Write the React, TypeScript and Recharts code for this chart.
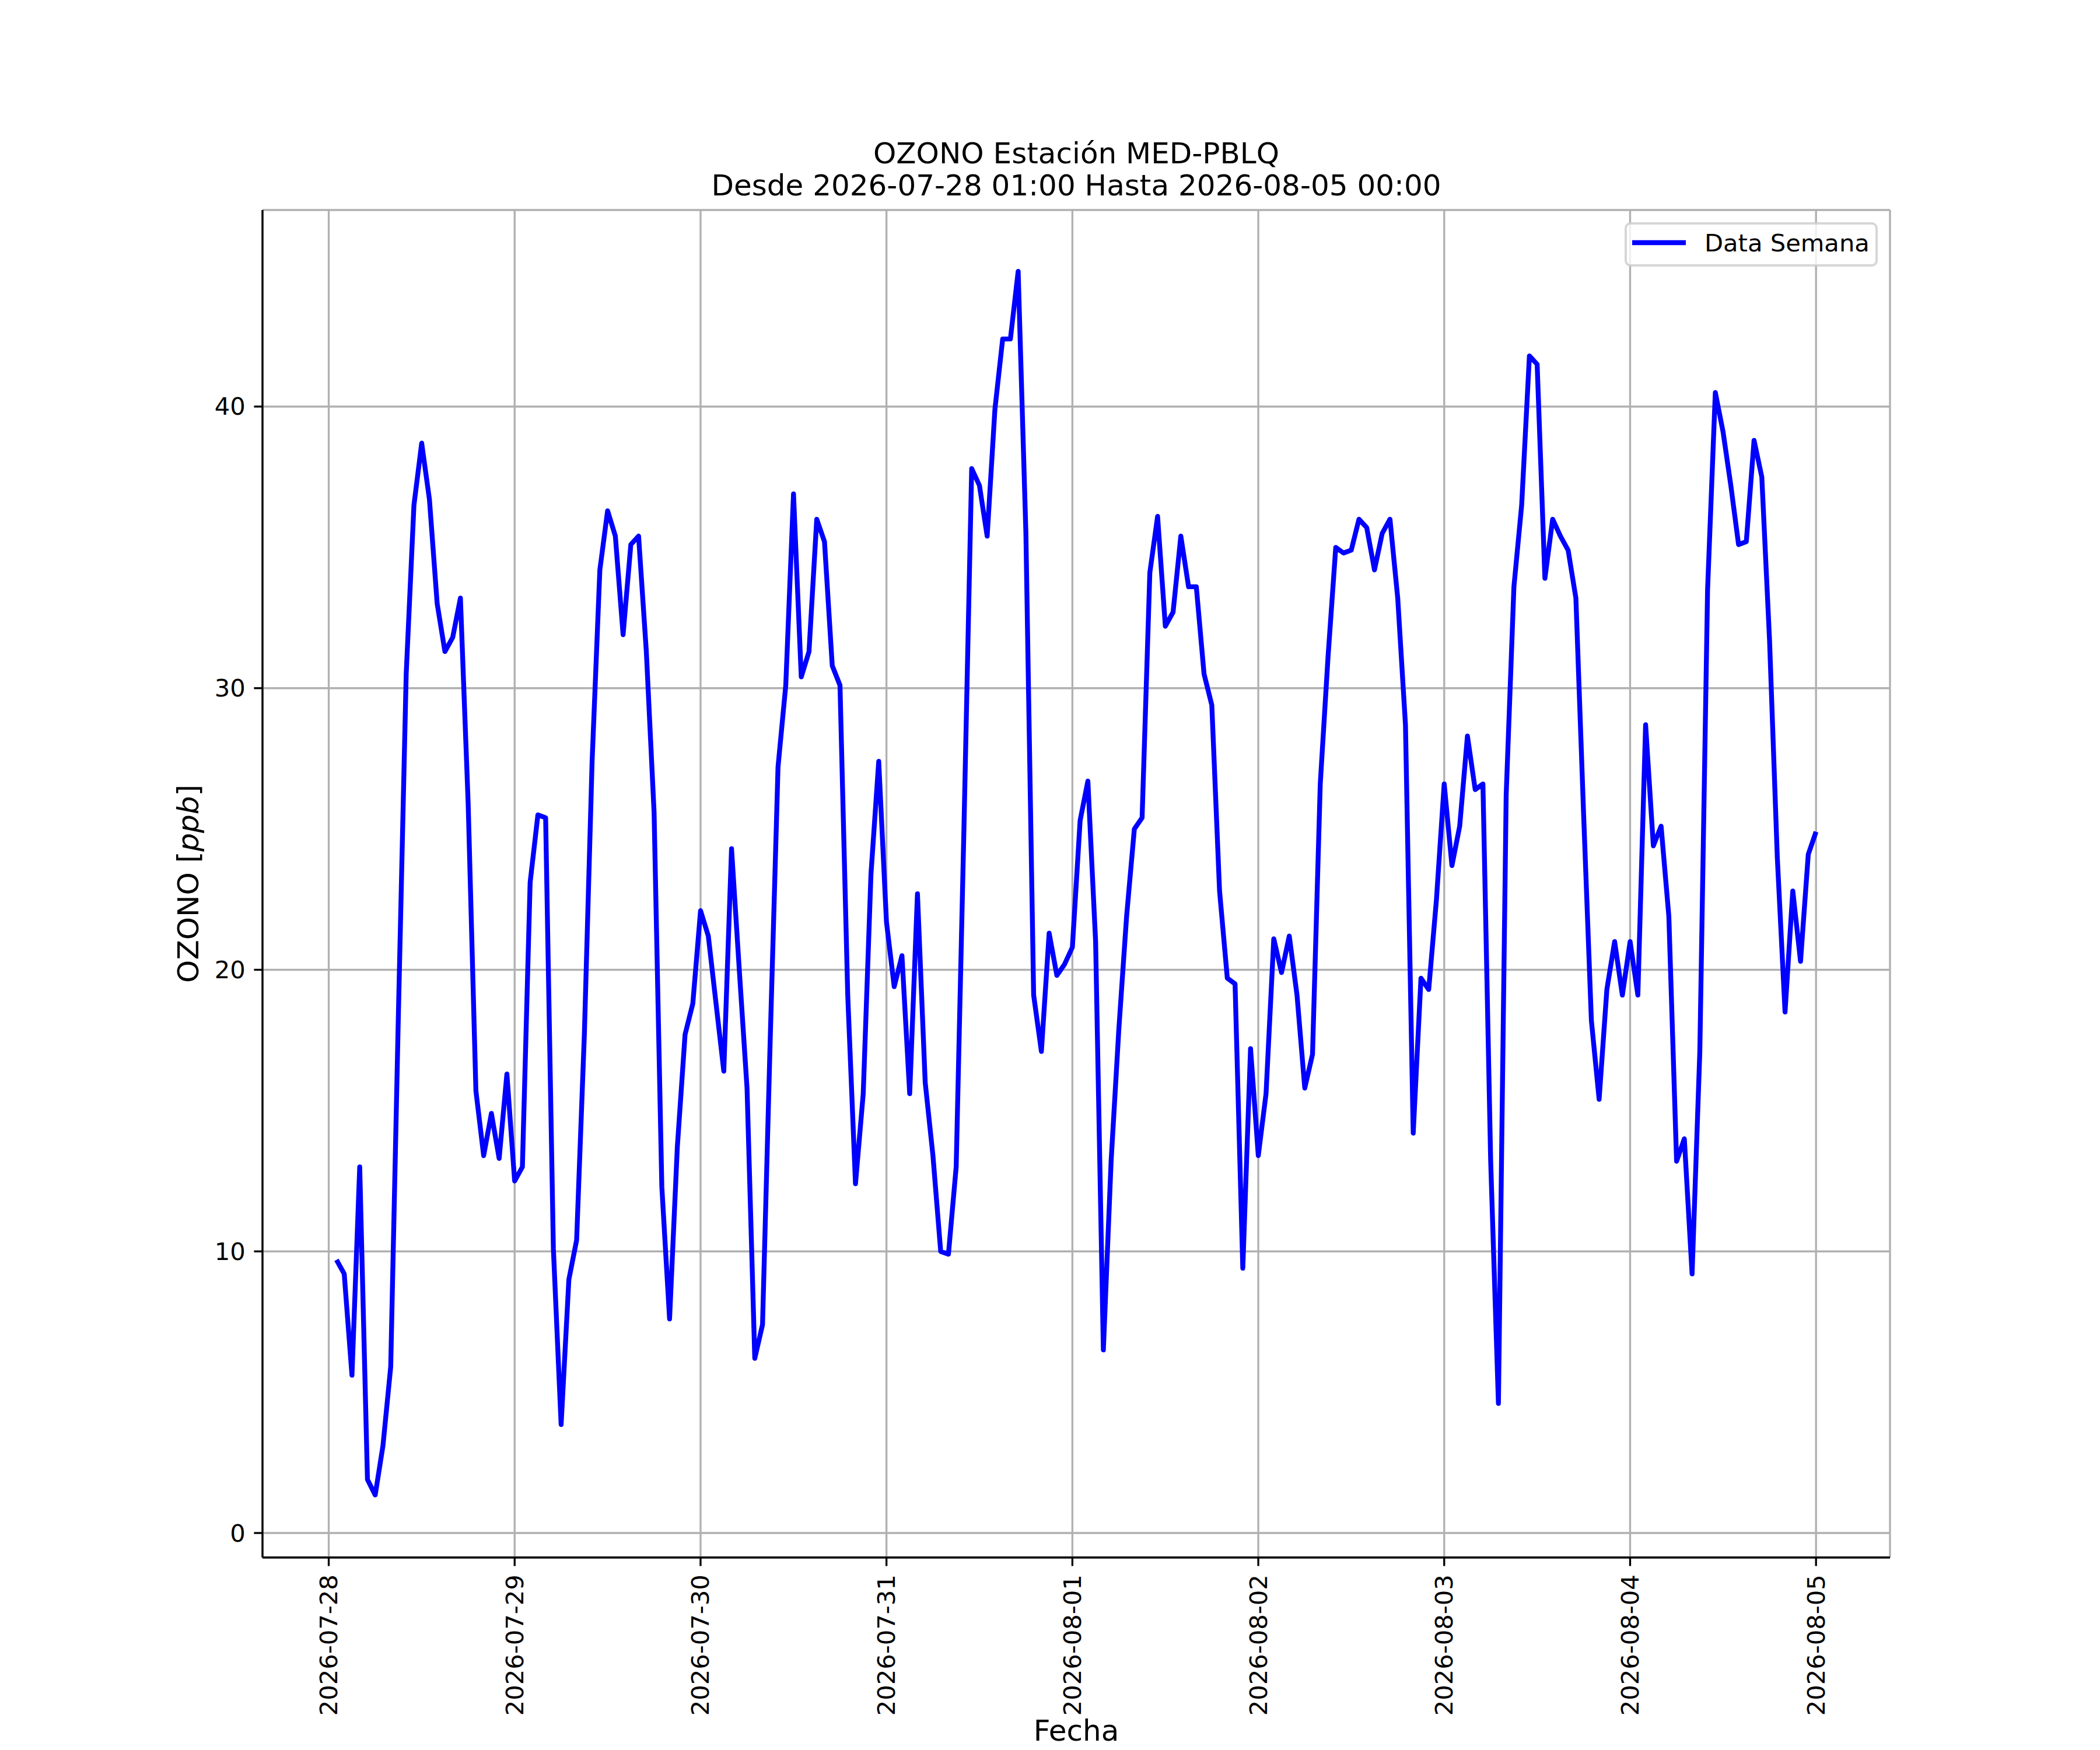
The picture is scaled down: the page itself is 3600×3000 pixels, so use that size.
import React from 'react';
import { LineChart, Line, XAxis, YAxis, CartesianGrid, Legend } from 'recharts';

// Hourly ozone readings (ppb), from 2026-07-28 01:00 to 2026-08-05 00:00
const day1 = [9.7, 9.2, 5.6, 13.0, 1.9, 1.35, 3.1, 5.9, 18.5, 30.5, 36.5, 38.7, 36.7, 33.0, 31.3, 31.8, 33.2, 25.9, 15.7, 13.4, 14.9, 13.3, 16.3, 12.5];
const day2 = [13.0, 23.1, 25.5, 25.4, 10.1, 3.85, 9.0, 10.4, 17.7, 27.4, 34.2, 36.3, 35.4, 31.9, 35.1, 35.4, 31.3, 25.6, 12.3, 7.6, 13.7, 17.7, 18.8, 22.1];
const day3 = [21.2, 18.8, 16.4, 24.3, 20.0, 15.8, 6.2, 7.4, 17.6, 27.2, 30.1, 36.9, 30.4, 31.3, 36.0, 35.2, 30.8, 30.1, 19.1, 12.4, 15.6, 23.4, 27.4, 21.7];
const day4 = [19.4, 20.5, 15.6, 22.7, 16.0, 13.4, 10.0, 9.9, 13.0, 25.0, 37.8, 37.2, 35.4, 39.9, 42.4, 42.4, 44.8, 35.5, 19.1, 17.1, 21.3, 19.8, 20.2, 20.8];
const day5 = [25.3, 26.7, 21.0, 6.5, 13.2, 17.9, 21.9, 25.0, 25.4, 34.1, 36.1, 32.2, 32.7, 35.4, 33.6, 33.6, 30.5, 29.4, 22.8, 19.7, 19.5, 9.4, 17.2, 13.4];
const day6 = [15.6, 21.1, 19.9, 21.2, 19.1, 15.8, 17.0, 26.6, 31.1, 35.0, 34.8, 34.9, 36.0, 35.7, 34.2, 35.5, 36.0, 33.2, 28.7, 14.2, 19.7, 19.3, 22.5, 26.6];
const day7 = [23.7, 25.1, 28.3, 26.4, 26.6, 13.2, 4.6, 26.2, 33.6, 36.5, 41.8, 41.5, 33.9, 36.0, 35.4, 34.9, 33.2, 25.5, 18.2, 15.4, 19.3, 21.0, 19.1, 21.0];
const day8 = [19.1, 28.7, 24.4, 25.1, 21.9, 13.2, 14.0, 9.2, 17.1, 33.5, 40.5, 39.1, 37.2, 35.1, 35.2, 38.8, 37.5, 31.7, 24.0, 18.5, 22.8, 20.3, 24.1, 24.9];

const ozone = [...day1, ...day2, ...day3, ...day4, ...day5, ...day6, ...day7, ...day8];

const dayLabels = ['2026-07-28', '2026-07-29', '2026-07-30', '2026-07-31', '2026-08-01', '2026-08-02', '2026-08-03', '2026-08-04', '2026-08-05'];
const yTicks = [0, 10, 20, 30, 40];

// x = hours since 2026-07-28 00:00
const data = ozone.map((v, i) => ({ hour: i + 1, ozono: v }));
const xTicks = dayLabels.map((_, i) => i * 24);

const W = 3600;
const H = 3000;
const PT = 300 / 72; // matplotlib points -> px at 300 dpi
const FONT = '"DejaVu Sans", sans-serif';
const TICK_FS = 10 * PT;
const LABEL_FS = 12 * PT;

const xDomain = [-8.55, 201.55];
const yDomain = [-0.87, 46.98];

const XTick = ({ x, y, payload }: any) => (
  <text
    x={x}
    y={y}
    transform={`rotate(-90 ${x} ${y})`}
    textAnchor="end"
    dominantBaseline="central"
    fontSize={TICK_FS}
    fontFamily={FONT}
    fill="#000"
  >
    {dayLabels[Math.round(payload.value / 24)]}
  </text>
);

const YTick = ({ x, y, payload }: any) => (
  <text x={x} y={y} textAnchor="end" dominantBaseline="central" fontSize={TICK_FS} fontFamily={FONT} fill="#000">
    {payload.value}
  </text>
);

const LegendBox = () => (
  <svg width={434} height={76} style={{ display: 'block' }}>
    <rect x={2} y={2} width={430} height={72} rx={8} fill="#fff" fillOpacity={0.8} stroke="#cccccc" strokeOpacity={0.8} strokeWidth={4} />
    <line x1={13} x2={105} y1={35} y2={35} stroke="#0000ff" strokeWidth={2 * PT} />
    <text x={137} y={50} fontSize={TICK_FS} fontFamily={FONT} fill="#000">
      Data Semana
    </text>
  </svg>
);

const spine = { stroke: '#000', strokeWidth: 0.8 * PT };

export default function App() {
  return (
    <div style={{ position: 'absolute', left: 0, top: 0, width: W, height: H, background: '#fff' }}>
      <LineChart width={W} height={H} data={data} margin={{ top: 360, right: 360, bottom: 0, left: 0 }}>
        <CartesianGrid stroke="#b0b0b0" strokeWidth={0.8 * PT} />
        <XAxis
          dataKey="hour"
          type="number"
          domain={xDomain}
          allowDataOverflow
          ticks={xTicks}
          interval={0}
          height={330}
          tickSize={3.5 * PT}
          tickMargin={3.5 * PT}
          tick={<XTick />}
          tickLine={spine}
          axisLine={spine}
        />
        <XAxis
          xAxisId="top"
          orientation="top"
          dataKey="hour"
          type="number"
          domain={xDomain}
          allowDataOverflow
          height={0}
          tick={false}
          tickLine={false}
          axisLine={spine}
        />
        <YAxis
          type="number"
          domain={yDomain}
          allowDataOverflow
          ticks={yTicks}
          interval={0}
          width={450}
          tickSize={3.5 * PT}
          tickMargin={3.5 * PT}
          tick={<YTick />}
          tickLine={spine}
          axisLine={spine}
        />
        <YAxis
          yAxisId="right"
          orientation="right"
          type="number"
          domain={yDomain}
          allowDataOverflow
          width={0}
          tick={false}
          tickLine={false}
          axisLine={spine}
        />
        <Legend
          layout="vertical"
          align="center"
          verticalAlign="middle"
          wrapperStyle={{ left: 2785, top: 381, width: 434, height: 76 }}
          content={<LegendBox />}
        />
        <Line
          type="linear"
          dataKey="ozono"
          name="Data Semana"
          stroke="#0000ff"
          strokeWidth={2 * PT}
          strokeLinejoin="round"
          dot={false}
          activeDot={false}
          isAnimationActive={false}
        />
      </LineChart>
      <svg width={W} height={H} style={{ position: 'absolute', left: 0, top: 0, pointerEvents: 'none' }}>
        <text x={1845} y={280} textAnchor="middle" fontSize={LABEL_FS} fontFamily={FONT} fill="#000">
          OZONO Estación MED-PBLQ
        </text>
        <text x={1845} y={335} textAnchor="middle" fontSize={LABEL_FS} fontFamily={FONT} fill="#000">
          Desde 2026-07-28 01:00 Hasta 2026-08-05 00:00
        </text>
        <text x={1845} y={2984} textAnchor="middle" fontSize={LABEL_FS} fontFamily={FONT} fill="#000">
          Fecha
        </text>
        <text
          x={340}
          y={1515}
          transform="rotate(-90 340 1515)"
          textAnchor="middle"
          fontSize={LABEL_FS}
          fontFamily={FONT}
          fill="#000"
        >
          OZONO [<tspan fontStyle="italic">ppb</tspan>]
        </text>
      </svg>
    </div>
  );
}
